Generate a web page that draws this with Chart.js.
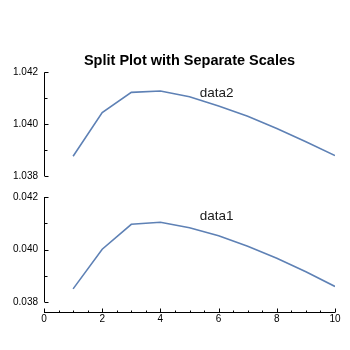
<!DOCTYPE html>
<html lang="en">
<head>
  <meta charset="UTF-8" />
  <title>Split Plot with Separate Scales</title>
  <script src="https://cdn.jsdelivr.net/npm/chart.js"></script>
  <style>
    body {
      margin: 0;
      padding: 0;
      background: #fff;
    }
    #wrap {
      position: relative;
      width: 350px;
      height: 350px;
    }
    #wrap canvas {
      position: absolute;
      left: 0;
      top: 0;
    }
  </style>
</head>
<body>
  <div id="wrap">
    <canvas id="topChart" width="350" height="350"></canvas>
    <canvas id="bottomChart" width="350" height="350"></canvas>
  </div>

  <script>
    const xValues = [1, 2, 3, 4, 5, 6, 7, 8, 9, 10];
    const data1 = [0.0385, 0.04001, 0.04096, 0.04104, 0.04083, 0.04052, 0.04012, 0.03967, 0.03915, 0.03859];
    const data2 = [1.03876, 1.04045, 1.04123, 1.04128, 1.04106, 1.0407, 1.04031, 1.03983, 1.03932, 1.03879];
    const topTicks = [1.038, 1.040, 1.042];
    const bottomTicks = [0.038, 0.040, 0.042];
    const xTicks = [0, 2, 4, 6, 8, 10];

    const FONT = '"Liberation Sans", Arial, sans-serif';
    const LINE = '#5e81b5';

    // axis lines with small inward ticks, drawn on top of the library's scales
    const frameTicks = {
      id: 'frameTicks',
      afterDraw(chart, args, opts) {
        const ctx = chart.ctx;
        const area = chart.chartArea;
        const ys = chart.scales.y;
        const xs = chart.scales.x;
        ctx.save();
        ctx.strokeStyle = '#000';
        ctx.lineWidth = 1;
        ctx.beginPath();
        const left = Math.round(area.left) + 0.5;
        ctx.moveTo(left, ys.getPixelForValue(ys.max));
        ctx.lineTo(left, ys.getPixelForValue(ys.min));
        const ySteps = Math.round((ys.max - ys.min) / opts.yMinor);
        for (let i = 0; i <= ySteps; i++) {
          const y = Math.round(ys.getPixelForValue(ys.min + i * opts.yMinor)) + 0.5;
          const len = i % 2 === 0 ? 4 : 3;
          ctx.moveTo(left, y);
          ctx.lineTo(left + len, y);
        }
        if (opts.xAxis) {
          const base = Math.round(area.bottom + opts.xGap) + 0.5;
          ctx.moveTo(xs.getPixelForValue(xs.min), base);
          ctx.lineTo(xs.getPixelForValue(xs.max), base);
          const xSteps = Math.round((xs.max - xs.min) / 0.5);
          for (let i = 0; i <= xSteps; i++) {
            const x = Math.round(xs.getPixelForValue(xs.min + i * 0.5)) + 0.5;
            const len = i % 4 === 0 ? 4 : 2;
            ctx.moveTo(x, base);
            ctx.lineTo(x, base - len);
          }
        }
        ctx.stroke();
        ctx.restore();
      }
    };

    const seriesLabel = {
      id: 'seriesLabel',
      afterDatasetsDraw(chart, args, opts) {
        const ctx = chart.ctx;
        ctx.save();
        ctx.font = '13.5px ' + FONT;
        ctx.fillStyle = '#1a1a1a';
        ctx.textBaseline = 'middle';
        ctx.fillText(opts.text, chart.scales.x.getPixelForValue(opts.x), chart.scales.y.getPixelForValue(opts.y));
        ctx.restore();
      }
    };

    function panel(canvasId, values, yTicks, opts) {
      return new Chart(document.getElementById(canvasId), {
        type: 'line',
        data: {
          datasets: [{
            data: xValues.map((x, i) => ({ x: x, y: values[i] })),
            borderColor: LINE,
            borderWidth: 1.6,
            pointRadius: 0,
            tension: 0,
            fill: false
          }]
        },
        plugins: [frameTicks, seriesLabel],
        options: {
          responsive: false,
          animation: false,
          layout: { padding: opts.padding },
          plugins: {
            legend: { display: false },
            tooltip: { enabled: false },
            title: opts.title,
            frameTicks: { yMinor: 0.001, xAxis: opts.xAxis, xGap: 10 },
            seriesLabel: opts.label
          },
          scales: {
            x: {
              type: 'linear',
              min: 0,
              max: 10,
              display: opts.xAxis,
              afterBuildTicks: s => { s.ticks = xTicks.map(v => ({ value: v })); },
              afterFit: s => { s.paddingLeft = 0; s.paddingRight = 0; },
              grid: { display: false, drawTicks: false },
              border: { display: false },
              ticks: { color: '#000', font: { family: FONT, size: 10 }, padding: 11, maxRotation: 0 }
            },
            y: {
              min: yTicks[0],
              max: yTicks[yTicks.length - 1],
              afterBuildTicks: s => { s.ticks = yTicks.map(v => ({ value: v })); },
              afterFit: s => { s.width = 44; },
              grid: { display: false, drawTicks: false },
              border: { display: false },
              ticks: {
                color: '#000',
                font: { family: FONT, size: 10 },
                padding: 6,
                callback: v => v.toFixed(3)
              }
            }
          }
        }
      });
    }

    panel('topChart', data2, topTicks, {
      padding: { left: 0, right: 15, top: 0, bottom: 174 },
      xAxis: false,
      title: {
        display: true,
        fullSize: false,
        text: 'Split Plot with Separate Scales',
        color: '#000',
        font: { family: FONT, size: 14.5, weight: 'bold' },
        padding: { top: 52, bottom: 3 }
      },
      label: { text: 'data2', x: 5.35, y: 1.0412 }
    });

    panel('bottomChart', data1, bottomTicks, {
      padding: { left: 0, right: 15, top: 197, bottom: 14 },
      xAxis: true,
      title: { display: false },
      label: { text: 'data1', x: 5.35, y: 0.04126 }
    });
  </script>
</body>
</html>
